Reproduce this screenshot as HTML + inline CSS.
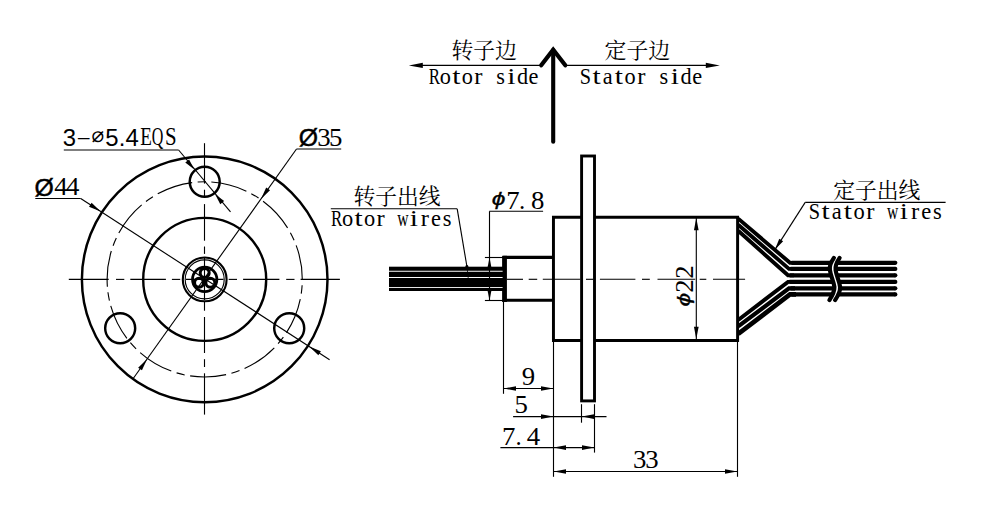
<!DOCTYPE html>
<html lang="zh"><head><meta charset="utf-8"><title>Slip ring drawing</title>
<style>
html,body{margin:0;padding:0;background:#fff;}
svg{display:block;}
.se{font-family:"Liberation Serif","Noto Serif CJK SC",serif;}
.sa{font-family:"Liberation Sans","DejaVu Sans",sans-serif;}
.dv{font-family:"DejaVu Sans","Liberation Sans",sans-serif;}
.cj{font-family:"Liberation Serif","Noto Serif CJK SC",serif;}
</style></head><body>
<svg width="992" height="511" viewBox="0 0 992 511">
<rect width="992" height="511" fill="#fff"/>
<g fill="none" stroke="#000" stroke-linecap="butt">
<circle cx="204.7" cy="279.4" r="122.8" stroke-width="2.45"/>
<circle cx="204.7" cy="279.4" r="61.5" stroke-width="2.4"/>
<circle cx="204.70" cy="181.80" r="15.0" stroke-width="2.45"/>
<circle cx="120.18" cy="328.20" r="15.0" stroke-width="2.45"/>
<circle cx="289.22" cy="328.20" r="15.0" stroke-width="2.45"/>
<circle cx="204.7" cy="279.4" r="21.9" stroke-width="2.1"/>
<circle cx="204.7" cy="279.4" r="19.5" stroke-width="1.1"/>
<circle cx="204.7" cy="279.4" r="12.2" stroke-width="2.7"/>
<circle cx="204.70" cy="272.90" r="4.5" stroke-width="3.0"/>
<circle cx="199.07" cy="282.65" r="4.5" stroke-width="3.0"/>
<circle cx="210.33" cy="282.65" r="4.5" stroke-width="3.0"/>
<line x1="68.80" y1="279.40" x2="108.70" y2="279.40" stroke-width="1.12" />
<line x1="116.00" y1="279.40" x2="124.30" y2="279.40" stroke-width="1.12" />
<line x1="130.30" y1="279.40" x2="165.90" y2="279.40" stroke-width="1.12" />
<line x1="171.90" y1="279.40" x2="180.20" y2="279.40" stroke-width="1.12" />
<line x1="186.00" y1="279.40" x2="223.50" y2="279.40" stroke-width="1.12" />
<line x1="228.70" y1="279.40" x2="237.00" y2="279.40" stroke-width="1.12" />
<line x1="243.10" y1="279.40" x2="279.40" y2="279.40" stroke-width="1.12" />
<line x1="286.20" y1="279.40" x2="294.50" y2="279.40" stroke-width="1.12" />
<line x1="300.60" y1="279.40" x2="339.90" y2="279.40" stroke-width="1.12" />
<line x1="204.50" y1="143.20" x2="204.50" y2="183.60" stroke-width="1.12" />
<line x1="204.50" y1="189.70" x2="204.50" y2="197.30" stroke-width="1.12" />
<line x1="204.50" y1="204.10" x2="204.50" y2="240.70" stroke-width="1.12" />
<line x1="204.50" y1="246.50" x2="204.50" y2="253.90" stroke-width="1.12" />
<line x1="204.50" y1="258.00" x2="204.50" y2="300.00" stroke-width="1.12" />
<line x1="204.50" y1="301.30" x2="204.50" y2="310.70" stroke-width="1.12" />
<line x1="204.50" y1="317.00" x2="204.50" y2="353.00" stroke-width="1.12" />
<line x1="204.50" y1="359.20" x2="204.50" y2="367.00" stroke-width="1.12" />
<line x1="204.50" y1="373.30" x2="204.50" y2="414.60" stroke-width="1.12" />
<circle cx="204.7" cy="279.4" r="97.6" stroke-width="1.12" stroke-dasharray="36.3 5.5 8.4 5.55" stroke-dashoffset="35.8"/>
<line x1="296.50" y1="149.00" x2="133.40" y2="378.30" stroke-width="1.12" />
<line x1="296.50" y1="149.00" x2="341.20" y2="149.00" stroke-width="1.12" />
<polygon points="260.98,198.93 266.20,187.55 270.03,190.27" fill="#000" stroke="none"/>
<polygon points="147.15,358.97 141.94,370.35 138.11,367.63" fill="#000" stroke="none"/>
<line x1="35.30" y1="198.50" x2="80.70" y2="198.50" stroke-width="1.12" />
<line x1="80.70" y1="198.50" x2="329.60" y2="359.70" stroke-width="1.12" />
<polygon points="100.64,211.41 89.04,206.70 91.59,202.76" fill="#000" stroke="none"/>
<polygon points="309.30,346.55 320.90,351.27 318.35,355.21" fill="#000" stroke="none"/>
<line x1="63.80" y1="150.00" x2="178.60" y2="150.00" stroke-width="1.2" />
<line x1="178.60" y1="150.00" x2="230.50" y2="211.90" stroke-width="1.12" />
<polygon points="194.27,169.41 185.27,162.60 189.10,159.38" fill="#000" stroke="none"/>
<polygon points="215.13,194.19 224.13,201.00 220.30,204.22" fill="#000" stroke="none"/>
<line x1="553.20" y1="50.00" x2="553.20" y2="141.80" stroke-width="4.1" stroke-linecap="round"/>
<polyline points="541.2,65.3 553.2,49.6 565.3,65.3" stroke-width="4.2" stroke-linejoin="miter" stroke-linecap="round"/>
<line x1="420.00" y1="65.40" x2="541.00" y2="65.40" stroke-width="1.12" />
<polygon points="408.80,65.40 422.80,62.80 422.80,68.00" fill="#000" stroke="none"/>
<line x1="565.50" y1="65.40" x2="708.00" y2="65.40" stroke-width="1.12" />
<polygon points="719.80,65.40 705.80,68.00 705.80,62.80" fill="#000" stroke="none"/>
<rect x="581.6" y="156" width="12.9" height="244.9" stroke-width="2.9"/>
<path d="M581.7 217.2 H553.45 V340.45 H581.7 M594.6 217.2 H737.6 V340.45 H594.6" stroke-width="2.95" stroke-linejoin="miter"/>
<path d="M553.8 257.4 H504.7 V300.3 H553.8" stroke-width="3.1" stroke-linejoin="miter"/>
<line x1="504.50" y1="255.80" x2="504.50" y2="302.00" stroke-width="4.8" />
<rect x="389" y="266.7" width="114" height="24.3" fill="#000" stroke="none"/>
<line x1="388" y1="271.25" x2="502.6" y2="271.25" stroke="#fff" stroke-width="1.12"/>
<line x1="388" y1="277.5" x2="502.6" y2="277.5" stroke="#fff" stroke-width="1.12"/>
<line x1="388" y1="287.5" x2="502.6" y2="287.5" stroke="#fff" stroke-width="0.9"/>
<polyline points="738.2,218.6 790,262.8 796,262.8" stroke-width="3.85" stroke-linejoin="miter"/>
<line x1="791.5" y1="262.8" x2="895.3" y2="262.8" stroke-width="4.2"/>
<circle cx="895.3" cy="262.8" r="2.1" fill="#000" stroke="none"/>
<polyline points="738.2,224.7 789,268.9 795,268.9" stroke-width="3.85" stroke-linejoin="miter"/>
<line x1="790.5" y1="268.9" x2="895.3" y2="268.9" stroke-width="4.2"/>
<circle cx="895.3" cy="268.9" r="2.1" fill="#000" stroke="none"/>
<polyline points="738.2,230.8 788,275.3 794,275.3" stroke-width="3.85" stroke-linejoin="miter"/>
<line x1="789.5" y1="275.3" x2="895.3" y2="275.3" stroke-width="4.2"/>
<circle cx="895.3" cy="275.3" r="2.1" fill="#000" stroke="none"/>
<polyline points="738.2,320.0 788,281.9 794,281.9" stroke-width="3.9" stroke-linejoin="miter"/>
<line x1="789.5" y1="281.9" x2="895.3" y2="281.9" stroke-width="4.2"/>
<circle cx="895.3" cy="281.9" r="2.1" fill="#000" stroke="none"/>
<polyline points="738.2,326.4 789,288.3 795,288.3" stroke-width="4.2" stroke-linejoin="miter"/>
<line x1="790.5" y1="288.3" x2="895.3" y2="288.3" stroke-width="4.2"/>
<circle cx="895.3" cy="288.3" r="2.1" fill="#000" stroke="none"/>
<polyline points="738.2,333.8 790,294.4 796,294.4" stroke-width="4.7" stroke-linejoin="miter"/>
<line x1="791.5" y1="294.4" x2="895.3" y2="294.4" stroke-width="4.2"/>
<circle cx="895.3" cy="294.4" r="2.1" fill="#000" stroke="none"/>
<path d="M836.7 257.9 C834.0 262 832.0 266 832.7 270 C833.5 276 836.5 281 837.2 287 C837.5 292 835.0 296 832.3 300.1" stroke="#fff" stroke-width="6"/>
<path d="M833.9 257.9 C831.1 262 829.1 266 829.9 270 C830.6 276 833.6 281 834.4 287 C834.6 292 832.1 296 829.4 300.1" stroke="#000" stroke-width="4.2" stroke-linecap="round"/>
<path d="M839.6 257.9 C836.9 262 834.9 266 835.6 270 C836.4 276 839.4 281 840.1 287 C840.4 292 837.9 296 835.1 300.1" stroke="#000" stroke-width="4.2" stroke-linecap="round"/>
<line x1="506.80" y1="279.30" x2="523.00" y2="279.30" stroke-width="1.12" />
<line x1="528.70" y1="279.30" x2="537.20" y2="279.30" stroke-width="1.12" />
<line x1="542.80" y1="279.30" x2="580.20" y2="279.30" stroke-width="1.12" />
<line x1="586.00" y1="279.30" x2="593.00" y2="279.30" stroke-width="1.12" />
<line x1="599.90" y1="279.30" x2="635.40" y2="279.30" stroke-width="1.12" />
<line x1="642.00" y1="279.30" x2="649.80" y2="279.30" stroke-width="1.12" />
<line x1="657.50" y1="279.30" x2="695.20" y2="279.30" stroke-width="1.12" />
<line x1="699.70" y1="279.30" x2="706.30" y2="279.30" stroke-width="1.12" />
<line x1="713.00" y1="279.30" x2="745.10" y2="279.30" stroke-width="1.12" />
<line x1="489.30" y1="211.30" x2="543.10" y2="211.30" stroke-width="1.12" />
<line x1="489.50" y1="211.30" x2="489.50" y2="300.40" stroke-width="1.12" />
<line x1="484.90" y1="257.50" x2="503.00" y2="257.50" stroke-width="1.12" />
<line x1="484.90" y1="300.50" x2="503.00" y2="300.50" stroke-width="1.12" />
<polygon points="489.50,257.60 491.40,267.20 487.60,267.20" fill="#000" stroke="none"/>
<polygon points="489.50,300.40 487.60,290.80 491.40,290.80" fill="#000" stroke="none"/>
<line x1="330.80" y1="208.80" x2="457.20" y2="208.80" stroke-width="1.12" />
<line x1="457.20" y1="208.80" x2="467.00" y2="267.00" stroke-width="1.12" />
<line x1="467.00" y1="267.00" x2="468.20" y2="278.00" stroke-width="0.8" />
<circle cx="466.9" cy="266.3" r="1.4" fill="#000" stroke="none"/>
<line x1="805.20" y1="202.40" x2="945.60" y2="202.40" stroke-width="1.12" />
<line x1="805.20" y1="202.40" x2="775.00" y2="249.60" stroke-width="1.12" />
<polygon points="775.00,249.60 779.26,238.67 783.14,241.15" fill="#000" stroke="none"/>
<line x1="696.30" y1="218.00" x2="696.30" y2="339.00" stroke-width="1.12" />
<polygon points="696.30,218.00 698.65,230.30 693.95,230.30" fill="#000" stroke="none"/>
<polygon points="696.30,339.00 693.95,326.70 698.65,326.70" fill="#000" stroke="none"/>
<line x1="503.50" y1="302.00" x2="503.50" y2="393.80" stroke-width="1.12" />
<line x1="553.50" y1="342.00" x2="553.50" y2="476.80" stroke-width="1.12" />
<line x1="737.50" y1="342.00" x2="737.50" y2="476.80" stroke-width="1.12" />
<line x1="503.50" y1="388.50" x2="553.50" y2="388.50" stroke-width="1.12" />
<polygon points="503.70,388.50 516.00,386.15 516.00,390.85" fill="#000" stroke="none"/>
<polygon points="553.30,388.50 541.00,390.85 541.00,386.15" fill="#000" stroke="none"/>
<line x1="513.10" y1="416.60" x2="606.50" y2="416.60" stroke-width="1.12" />
<polygon points="553.30,416.60 541.00,418.95 541.00,414.25" fill="#000" stroke="none"/>
<polygon points="581.80,416.60 594.10,414.25 594.10,418.95" fill="#000" stroke="none"/>
<line x1="581.50" y1="404.20" x2="581.50" y2="422.70" stroke-width="1.12" />
<line x1="500.40" y1="447.60" x2="594.50" y2="447.60" stroke-width="1.12" />
<polygon points="553.70,447.60 566.00,445.25 566.00,449.95" fill="#000" stroke="none"/>
<polygon points="594.30,447.60 582.00,449.95 582.00,445.25" fill="#000" stroke="none"/>
<line x1="594.50" y1="404.20" x2="594.50" y2="452.60" stroke-width="1.12" />
<line x1="553.50" y1="471.50" x2="737.50" y2="471.50" stroke-width="1.12" />
<polygon points="553.70,471.50 566.00,469.15 566.00,473.85" fill="#000" stroke="none"/>
<polygon points="737.30,471.50 725.00,473.85 725.00,469.15" fill="#000" stroke="none"/>
</g>
<g fill="#000" stroke="none">
<text class="sa" x="69.45" y="145.6" font-size="23.9" text-anchor="middle">3</text>
<text class="sa" transform="translate(83.6,144.2) scale(2.0,0.75)" x="0" y="0" font-size="23.9" text-anchor="middle">-</text>
<text class="dv" x="97.85" y="142.3" font-size="21" text-anchor="middle">⌀</text>
<text class="sa" x="111.9 122 132.1" y="145.6" font-size="23.9" text-anchor="middle">5.4</text>
<text class="se" x="140.30 151.80 165.05" y="145.0" font-size="24.8" ><tspan textLength="11.60" lengthAdjust="spacingAndGlyphs">E</tspan><tspan textLength="11.60" lengthAdjust="spacingAndGlyphs">Q</tspan><tspan textLength="11.60" lengthAdjust="spacingAndGlyphs">S</tspan></text>
<text class="sa" x="34.6" y="195.6" font-size="24.8" stroke="#000" stroke-width="0.45">Ø</text>
<text class="se" x="54.30 66.10" y="194.8" font-size="25" ><tspan textLength="13.40" lengthAdjust="spacingAndGlyphs">4</tspan><tspan textLength="13.40" lengthAdjust="spacingAndGlyphs">4</tspan></text>
<text class="sa" x="298.8" y="146.4" font-size="24.8" stroke="#000" stroke-width="0.45">Ø</text>
<text class="se" x="317.30 329.10" y="146.2" font-size="25" ><tspan textLength="13.40" lengthAdjust="spacingAndGlyphs">3</tspan><tspan textLength="13.40" lengthAdjust="spacingAndGlyphs">5</tspan></text>
<text class="cj" x="462.30 484.10 505.90" y="58.0" font-size="21.8" text-anchor="middle" >转子边</text>
<text class="se" x="428.75 439.84 452.32 461.86 474.34 486.67 496.13 507.37 516.91 528.55" y="83.6" font-size="22.3" ><tspan textLength="11.30" lengthAdjust="spacingAndGlyphs">R</tspan>o<tspan textLength="8.20" lengthAdjust="spacingAndGlyphs">t</tspan>o<tspan textLength="8.20" lengthAdjust="spacingAndGlyphs">r</tspan> s<tspan textLength="8.20" lengthAdjust="spacingAndGlyphs">i</tspan>de</text>
<text class="cj" x="615.50 637.30 659.10" y="58.0" font-size="21.8" text-anchor="middle" >定子边</text>
<text class="se" x="579.75 592.48 602.83 614.86 624.58 637.24 649.75 659.39 670.81 680.53 692.35" y="83.6" font-size="22.3" ><tspan textLength="11.30" lengthAdjust="spacingAndGlyphs">S</tspan><tspan textLength="8.20" lengthAdjust="spacingAndGlyphs">t</tspan>a<tspan textLength="8.20" lengthAdjust="spacingAndGlyphs">t</tspan>o<tspan textLength="8.20" lengthAdjust="spacingAndGlyphs">r</tspan> s<tspan textLength="8.20" lengthAdjust="spacingAndGlyphs">i</tspan>de</text>
<text class="cj" x="364.30 386.10 407.90 429.70" y="204.2" font-size="21.8" text-anchor="middle" >转子出线</text>
<text class="se" x="330.88 341.97 354.52 364.07 376.62 388.97 397.18 409.77 420.82 431.00 442.67" y="225.5" font-size="22.4" ><tspan textLength="11.30" lengthAdjust="spacingAndGlyphs">R</tspan>o<tspan textLength="8.20" lengthAdjust="spacingAndGlyphs">t</tspan>o<tspan textLength="8.20" lengthAdjust="spacingAndGlyphs">r</tspan> <tspan textLength="11.30" lengthAdjust="spacingAndGlyphs">w</tspan><tspan textLength="8.20" lengthAdjust="spacingAndGlyphs">i</tspan><tspan textLength="8.20" lengthAdjust="spacingAndGlyphs">r</tspan>es</text>
<text class="cj" x="844.10 865.90 887.70 909.50" y="197.8" font-size="21.8" text-anchor="middle" >定子出线</text>
<text class="se" x="808.84 821.55 831.83 843.89 853.54 866.24 878.69 887.02 899.75 910.91 921.19 932.98" y="219.1" font-size="22.5" ><tspan textLength="11.30" lengthAdjust="spacingAndGlyphs">S</tspan><tspan textLength="8.20" lengthAdjust="spacingAndGlyphs">t</tspan>a<tspan textLength="8.20" lengthAdjust="spacingAndGlyphs">t</tspan>o<tspan textLength="8.20" lengthAdjust="spacingAndGlyphs">r</tspan> <tspan textLength="11.30" lengthAdjust="spacingAndGlyphs">w</tspan><tspan textLength="8.20" lengthAdjust="spacingAndGlyphs">i</tspan><tspan textLength="8.20" lengthAdjust="spacingAndGlyphs">r</tspan>es</text>
<text class="sa" transform="translate(498.5,205.0) scale(1.2,0.92)" x="0" y="0" font-size="20.5" font-style="italic" stroke="#000" stroke-width="0.35" text-anchor="middle">ϕ</text>
<text class="se" x="506.15 518.90 530.95" y="208.6" font-size="24.8" ><tspan textLength="13.40" lengthAdjust="spacingAndGlyphs">7</tspan>.<tspan textLength="13.40" lengthAdjust="spacingAndGlyphs">8</tspan></text>
<g transform="translate(693.4,0) rotate(-90)">
<text class="sa" transform="translate(-299.6,-3.6) scale(1.2,0.92)" x="0" y="0" font-size="20.5" font-style="italic" stroke="#000" stroke-width="0.35" text-anchor="middle">ϕ</text>
<text class="se" x="-292.80 -278.70" y="0" font-size="24.8" ><tspan textLength="13.40" lengthAdjust="spacingAndGlyphs">2</tspan><tspan textLength="13.40" lengthAdjust="spacingAndGlyphs">2</tspan></text>
</g>
<text class="se" x="521.80" y="385.1" font-size="24.8" ><tspan textLength="13.40" lengthAdjust="spacingAndGlyphs">9</tspan></text>
<text class="se" x="514.40" y="413.1" font-size="24.8" ><tspan textLength="13.40" lengthAdjust="spacingAndGlyphs">5</tspan></text>
<text class="se" x="501.90 515.40 526.70" y="444.7" font-size="24.8" ><tspan textLength="13.40" lengthAdjust="spacingAndGlyphs">7</tspan>.<tspan textLength="13.40" lengthAdjust="spacingAndGlyphs">4</tspan></text>
<text class="se" x="633.10 645.20" y="468.4" font-size="24.8" ><tspan textLength="13.40" lengthAdjust="spacingAndGlyphs">3</tspan><tspan textLength="13.40" lengthAdjust="spacingAndGlyphs">3</tspan></text>
</g>
</svg>
</body></html>
